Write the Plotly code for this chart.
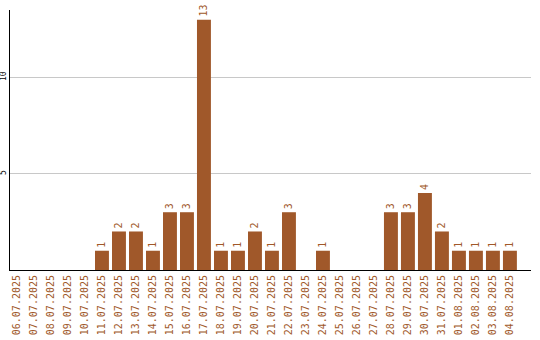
import plotly.graph_objects as go

dates = ["06.07.2025", "07.07.2025", "08.07.2025", "09.07.2025", "10.07.2025",
         "11.07.2025", "12.07.2025", "13.07.2025", "14.07.2025", "15.07.2025",
         "16.07.2025", "17.07.2025", "18.07.2025", "19.07.2025", "20.07.2025",
         "21.07.2025", "22.07.2025", "23.07.2025", "24.07.2025", "25.07.2025",
         "26.07.2025", "27.07.2025", "28.07.2025", "29.07.2025", "30.07.2025",
         "31.07.2025", "01.08.2025", "02.08.2025", "03.08.2025", "04.08.2025"]
counts = [0, 0, 0, 0, 0, 1, 2, 2, 1, 3, 3, 13, 1, 1, 2, 1, 3, 0, 1, 0,
          0, 0, 3, 3, 4, 2, 1, 1, 1, 1]

bar_color = "#A0582A"
labels = [str(v) if v > 0 else "" for v in counts]
xs = list(range(len(dates)))

fig = go.Figure(go.Bar(
    x=xs, y=counts, text=labels, textposition="outside", textangle=-90,
    textfont=dict(family="DejaVu Sans Mono", size=10, color=bar_color),
    marker=dict(color=bar_color, line=dict(width=0)),
    cliponaxis=False,
))

fig.update_layout(
    width=540, height=340,
    margin=dict(l=10, r=9, t=10, b=70),
    paper_bgcolor="white", plot_bgcolor="white",
    showlegend=False, bargap=0.18,
    uniformtext=dict(minsize=10, mode="show"),
)
fig.update_xaxes(
    tickmode="array", tickvals=xs, ticktext=dates, tickangle=-90,
    tickfont=dict(family="DejaVu Sans Mono", size=10, color=bar_color),
    range=[-0.41, 30.24], showline=True, linecolor="black", linewidth=1,
    showgrid=False, ticks="", zeroline=False, automargin=False,
)
fig.update_yaxes(
    range=[0, 13.5], tickangle=-90,
    tickfont=dict(family="DejaVu Sans Mono", size=8, color="black"),
    showline=True, linecolor="black", linewidth=1,
    showgrid=True, gridcolor="#c8c8c8", zeroline=False, ticks="",
    tickmode="array", tickvals=[5, 10], automargin=False, ticklabelstandoff=0,
)

fig.write_html("out.html")
